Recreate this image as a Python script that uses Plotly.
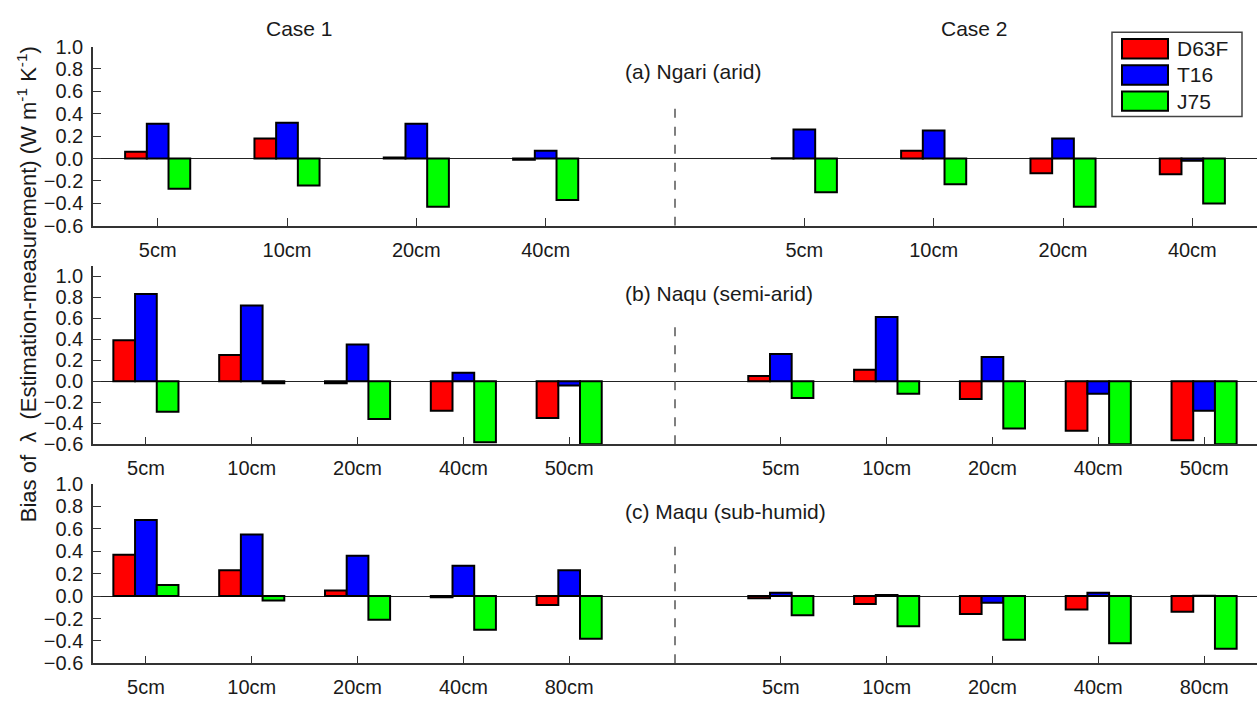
import plotly.graph_objects as go

W, H = 1257, 706

# ---------------- data ----------------
series = ["D63F", "T16", "J75"]
colors = ["#FF0000", "#0000FF", "#00FF00"]
case_labels = ["Case 1", "Case 2"]

panel_titles = ["(a) Ngari (arid)", "(b) Naqu (semi-arid)", "(c) Maqu (sub-humid)"]

depths_a = ["5cm", "10cm", "20cm", "40cm"]
depths_b = ["5cm", "10cm", "20cm", "40cm", "50cm"]
depths_c = ["5cm", "10cm", "20cm", "40cm", "80cm"]

# (a) Ngari
a_case1_D63F = [0.06, 0.18, 0.01, -0.01]
a_case1_T16 = [0.31, 0.32, 0.31, 0.07]
a_case1_J75 = [-0.27, -0.24, -0.43, -0.37]
a_case2_D63F = [0.004, 0.07, -0.13, -0.14]
a_case2_T16 = [0.26, 0.25, 0.18, -0.02]
a_case2_J75 = [-0.30, -0.23, -0.43, -0.40]

# (b) Naqu
b_case1_D63F = [0.39, 0.25, -0.02, -0.28, -0.35]
b_case1_T16 = [0.83, 0.72, 0.35, 0.08, -0.04]
b_case1_J75 = [-0.29, -0.02, -0.36, -0.58, -0.60]
b_case2_D63F = [0.05, 0.11, -0.17, -0.47, -0.56]
b_case2_T16 = [0.26, 0.61, 0.23, -0.12, -0.28]
b_case2_J75 = [-0.16, -0.12, -0.45, -0.60, -0.60]

# (c) Maqu
c_case1_D63F = [0.37, 0.23, 0.05, -0.01, -0.08]
c_case1_T16 = [0.68, 0.55, 0.36, 0.27, 0.23]
c_case1_J75 = [0.10, -0.04, -0.21, -0.30, -0.38]
c_case2_D63F = [-0.02, -0.07, -0.16, -0.12, -0.14]
c_case2_T16 = [0.03, 0.01, -0.06, 0.03, 0.004]
c_case2_J75 = [-0.17, -0.27, -0.39, -0.42, -0.47]

y_ranges = [[-0.6, 1.0], [-0.6, 1.1], [-0.6, 1.0]]
y_ticks = [-0.6, -0.4, -0.2, 0.0, 0.2, 0.4, 0.6, 0.8, 1.0]
divider_tops = [0.5, 0.54, 0.44]

panels = [
    (depths_a, [a_case1_D63F, a_case1_T16, a_case1_J75], [a_case2_D63F, a_case2_T16, a_case2_J75]),
    (depths_b, [b_case1_D63F, b_case1_T16, b_case1_J75], [b_case2_D63F, b_case2_T16, b_case2_J75]),
    (depths_c, [c_case1_D63F, c_case1_T16, c_case1_J75], [c_case2_D63F, c_case2_T16, c_case2_J75]),
]

# ---------------- layout geometry (pixels) ----------------
left_px, right_px = 93, 1257
tops_px = [36.7, 262.7, 488.3]
bots_px = [221.7, 447.3, 673.3]
bar_px = 21.7

FONT = "Liberation Sans, Arial, Helvetica, sans-serif"
TXT = "#1a1a1a"
AX = "#333333"

fig = go.Figure()
layout = dict(
    width=W, height=H,
    margin=dict(l=0, r=0, t=0, b=0),
    paper_bgcolor="white", plot_bgcolor="white",
    barmode="overlay", showlegend=False,
    font=dict(family=FONT, size=20, color=TXT),
)
shapes = []
annotations = []

for p, (depths, case1, case2) in enumerate(panels):
    n = len(depths)
    xa = "x" if p == 0 else f"x{p+1}"
    ya = "y" if p == 0 else f"y{p+1}"
    pos1 = [i + 1 for i in range(n)]
    pos2 = [n + 2 + i for i in range(n)]
    xmin, xmax = 0.5, 2 * n + 1.5
    unit_px = (right_px - left_px) / (xmax - xmin)
    bw = bar_px / unit_px
    for s in range(3):
        fig.add_trace(go.Bar(
            x=pos1 + pos2, y=case1[s] + case2[s], name=series[s],
            width=bw, offset=(s - 1.5) * bw,
            marker=dict(color=colors[s], line=dict(color="black", width=2)),
            xaxis=xa, yaxis=ya, showlegend=False,
        ))
    xkey = "xaxis" if p == 0 else f"xaxis{p+1}"
    ykey = "yaxis" if p == 0 else f"yaxis{p+1}"
    layout[xkey] = dict(
        domain=[left_px / W, right_px / W], range=[xmin, xmax], anchor=ya,
        tickvals=pos1 + pos2, ticktext=depths + depths,
        ticks="inside", ticklen=8, tickcolor=AX, tickwidth=1,
        showline=True, linecolor=AX, linewidth=1.5, showgrid=False, zeroline=False,
        tickfont=dict(size=20, family=FONT, color=TXT), ticklabelstandoff=5,
    )
    layout[ykey] = dict(
        domain=[1 - bots_px[p] / H, 1 - tops_px[p] / H], range=y_ranges[p], anchor=xa,
        tickvals=y_ticks, tickformat=".1f",
        ticks="inside", ticklen=8, tickcolor=AX, tickwidth=1,
        showline=True, linecolor=AX, linewidth=1.5, showgrid=False,
        zeroline=True, zerolinecolor="#222222", zerolinewidth=1,
        tickfont=dict(size=20, family=FONT, color=TXT), ticklabelstandoff=4,
    )
    # dashed divider between the two cases
    shapes.append(dict(type="line", xref=xa, yref=ya, x0=n + 1, x1=n + 1,
                       y0=y_ranges[p][0], y1=divider_tops[p],
                       line=dict(color="#555555", width=1.5, dash="dash")))
    # panel title
    title_y = [62, 291.5, 517][p]
    annotations.append(dict(text=panel_titles[p], xref="paper", yref="paper",
                            x=623 / W, y=1 - title_y / H, xanchor="left", yanchor="middle",
                            showarrow=False, font=dict(size=21, family=FONT, color=TXT)))

# case labels
for lbl, cx in zip(case_labels, [299, 974]):
    annotations.append(dict(text=lbl, xref="paper", yref="paper", x=cx / W, y=1 - 18 / H,
                            xanchor="center", yanchor="middle", showarrow=False,
                            font=dict(size=21, family=FONT, color=TXT)))

# y-axis title
annotations.append(dict(
    text="Bias of\u00a0\u00a0λ\u00a0\u00a0(Estimation-measurement) (W m<sup>-1</sup> K<sup>-1</sup>)",
    xref="paper", yref="paper", x=27 / W, y=1 - 282 / H, textangle=-90,
    xanchor="center", yanchor="middle", showarrow=False,
    font=dict(size=22, family=FONT, color=TXT)))

# legend box
lx0, lx1, ly0, ly1 = 1112, 1242, 22, 109
shapes.append(dict(type="rect", xref="paper", yref="paper", x0=lx0 / W, x1=lx1 / W,
                   y0=1 - ly1 / H, y1=1 - ly0 / H, line=dict(color="#444444", width=1.5),
                   fillcolor="white", layer="above"))
for s in range(3):
    cy = 39 + 27 * s
    shapes.append(dict(type="rect", xref="paper", yref="paper", x0=1122 / W, x1=1168 / W,
                       y0=1 - (cy + 10) / H, y1=1 - (cy - 10) / H,
                       line=dict(color="black", width=2), fillcolor=colors[s], layer="above"))
    annotations.append(dict(text=series[s], xref="paper", yref="paper", x=1175 / W, y=1 - cy / H,
                            xanchor="left", yanchor="middle", showarrow=False,
                            font=dict(size=21, family=FONT, color=TXT)))

layout["shapes"] = shapes
layout["annotations"] = annotations
fig.update_layout(**layout)
fig.write_html(
    "out.html",
    config={"displayModeBar": False},
    post_script="document.documentElement.style.margin='0';document.body.style.margin='0';"
                "document.body.style.padding='0';document.body.style.overflow='hidden';",
)
